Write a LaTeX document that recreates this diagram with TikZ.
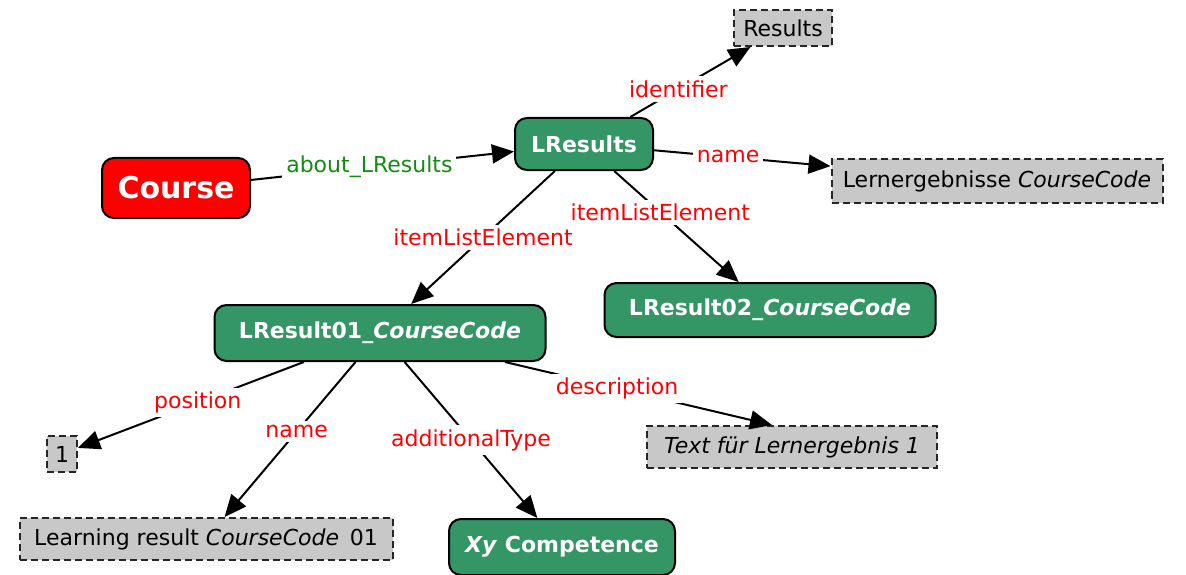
\documentclass[tikz,border=0pt]{standalone}
\usepackage{fontspec}
\setmainfont{DejaVu Sans}
\usetikzlibrary{arrows.meta}

\definecolor{nodegreen}{RGB}{51,150,100}
\definecolor{litgray}{RGB}{200,200,200}
\definecolor{relgreen}{RGB}{20,140,20}

\begin{document}
\begin{tikzpicture}[
  x=1pt, y=-1pt,
  font=\fontsize{22}{26}\selectfont,
  res/.style={rectangle, rounded corners=12pt, draw=black, line width=2pt, fill=nodegreen,
              text=white, font=\fontsize{22}{26}\selectfont\bfseries, minimum height=54pt, inner xsep=12pt},
  top/.style={res, fill=red, font=\fontsize{30}{34}\selectfont\bfseries, minimum height=60pt},
  val/.style={rectangle, draw=black!85, line width=2pt, dash pattern=on 7pt off 4pt, fill=litgray,
              text=black, minimum height=42pt, inner xsep=8pt},
  rel/.style={-{Triangle[length=22pt,width=19pt]}, line width=2pt, draw=black},
  lbl/.style={fill=white, inner sep=4pt, text=red},
  glbl/.style={lbl, text=relgreen}
]
\useasboundingbox (0,0) rectangle (1186,575);

\node[top] (course) at (176,188) [minimum width=148pt] {Course};
\node[res] (lres)   at (584,144) [minimum width=138pt, minimum height=52pt] {LResults};
\node[val] (resid)  at (783,28)  [minimum width=98pt, minimum height=36pt] {Results};
\node[val] (lname)  at (997,181) [minimum width=331pt, minimum height=43pt] {Lernergebnisse \textit{CourseCode}};
\node[res] (lr02)   at (770,310) [minimum width=331pt] {LResult02\_\textit{CourseCode}};
\node[res] (lr01)   at (380,333) [minimum width=331pt, minimum height=56pt] {LResult01\_\textit{CourseCode}};
\node[val] (pos)    at (62,454)  [minimum width=30pt, minimum height=36pt, inner xsep=4pt] {1};
\node[val] (rname)  at (206,539) [minimum width=373pt] {Learning result \textit{CourseCode}\, 01};
\node[res] (comp)   at (562,547) [minimum width=226pt, minimum height=56pt] {\textit{Xy} Competence};
\node[val] (descr)  at (792,447) [minimum width=290pt] {\textit{Text für Lernergebnis 1}};

\draw[rel] (course) -- node[glbl, pos=0.45] {about\_LResults} (lres);
\draw[rel] (lres) -- node[lbl, pos=0.4] {identifier} (resid);
\draw[rel] (lres) -- node[lbl, pos=0.42] {name} (lname);
\draw[rel] (lres) -- node[lbl, pos=0.5] {itemListElement} (lr01);
\draw[rel] (lres) -- node[lbl, pos=0.37] {itemListElement} (lr02);
\draw[rel] (lr01) -- node[lbl, pos=0.47] {position} (pos);
\draw[rel] (lr01) -- node[lbl, pos=0.45] {name} (rname);
\draw[rel] (lr01) -- node[lbl, pos=0.5] {additionalType} (comp);
\draw[rel] ([xshift=125pt]lr01.south) -- node[lbl, pos=0.42] {description} ([xshift=-20pt]descr.north);
\end{tikzpicture}
\end{document}
